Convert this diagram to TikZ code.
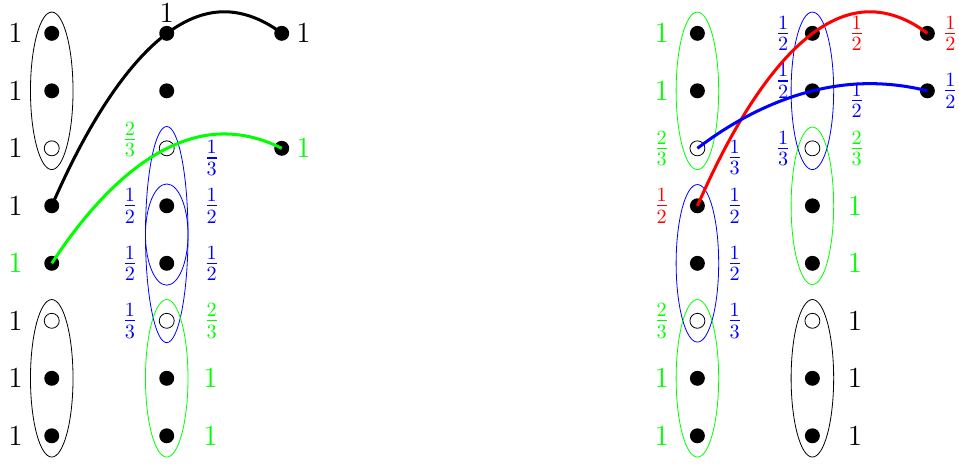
\documentclass[tikz,border=0pt]{standalone}
\usepackage{amsmath}
\usepackage{tikz}

\begin{document}
\begin{tikzpicture}[
	dot/.style={circle,fill=black,inner sep=0pt,minimum size=0.26cm},
	hole/.style={circle,draw=black,fill=white,inner sep=0pt,minimum size=0.26cm},
	lab/.style={font=\Large,inner sep=1pt},
	link/.style={line width=1.5pt}]
			\useasboundingbox (-0.9,-0.527) rectangle (15.78,7.58);
			% left picture
			\draw (0,6) ellipse (.37 and 1.37);
			\draw (0,1) ellipse (.37 and 1.37);
			\draw[blue] (2,3.5) ellipse (.37 and 1.88);
			\draw[blue] (2,3.5) ellipse (.37 and .88);
			\draw[green] (2,1) ellipse (.37 and 1.37);
			\node[dot] (a7) at (0,7) {};
			\node[dot] (a6) at (0,6) {};
			\node[hole] (a5) at (0,5) {};
			\node[dot] (a4) at (0,4) {};
			\node[dot] (a3) at (0,3) {};
			\node[hole] (a2) at (0,2) {};
			\node[dot] (a1) at (0,1) {};
			\node[dot] (a0) at (0,0) {};
			\node[dot] (b7) at (2,7) {};
			\node[dot] (b6) at (2,6) {};
			\node[hole] (b5) at (2,5) {};
			\node[dot] (b4) at (2,4) {};
			\node[dot] (b3) at (2,3) {};
			\node[hole] (b2) at (2,2) {};
			\node[dot] (b1) at (2,1) {};
			\node[dot] (b0) at (2,0) {};
			\node[dot] (c7) at (4,7) {};
			\node[dot] (c5) at (4,5) {};
			\node[lab] (la7) at (-.63,7) {$1$};
			\node[lab] (la6) at (-.63,6) {$1$};
			\node[lab] (la5) at (-.63,5) {$1$};
			\node[lab] (la4) at (-.63,4) {$1$};
			\node[lab,green] (la3) at (-.63,3) {$1$};
			\node[lab] (la2) at (-.63,2) {$1$};
			\node[lab] (la1) at (-.63,1) {$1$};
			\node[lab] (la0) at (-.63,0) {$1$};
			\node[lab] (tb7) at (2,7.35) {$1$};
			\node[lab,green] (lb5) at (1.36,5.15) {$\frac{2}{3}$};
			\node[lab,blue] (lb4) at (1.36,4) {$\frac{1}{2}$};
			\node[lab,blue] (lb3) at (1.36,3) {$\frac{1}{2}$};
			\node[lab,blue] (lb2) at (1.36,2) {$\frac{1}{3}$};
			\node[lab,blue] (rb5) at (2.78,4.83) {$\frac{1}{3}$};
			\node[lab,blue] (rb4) at (2.78,4) {$\frac{1}{2}$};
			\node[lab,blue] (rb3) at (2.78,3) {$\frac{1}{2}$};
			\node[lab,green] (rb2) at (2.78,2) {$\frac{2}{3}$};
			\node[lab,green] (rb1) at (2.76,1) {$1$};
			\node[lab,green] (rb0) at (2.76,0) {$1$};
			\node[lab] (rc7) at (4.38,7) {$1$};
			\node[lab,green] (rc5) at (4.38,5) {$1$};
			\coordinate (kblack) at (3,7.375);
			\coordinate (kgreen) at (3,5.25);
			\draw[link] (a4.center) parabola bend (kblack) (c7.center);
			\draw[link,green] (a3.center) parabola bend (kgreen) (c5.center);
			% right picture
			\draw[green] (11.23,6) ellipse (.37 and 1.37);
			\draw[blue] (11.23,3) ellipse (.37 and 1.37);
			\draw[green] (11.23,1) ellipse (.37 and 1.37);
			\draw[blue] (13.23,6) ellipse (.37 and 1.37);
			\draw[green] (13.23,4) ellipse (.37 and 1.37);
			\draw (13.23,1) ellipse (.37 and 1.37);
			\node[dot] (d7) at (11.23,7) {};
			\node[dot] (d6) at (11.23,6) {};
			\node[hole] (d5) at (11.23,5) {};
			\node[dot] (d4) at (11.23,4) {};
			\node[dot] (d3) at (11.23,3) {};
			\node[hole] (d2) at (11.23,2) {};
			\node[dot] (d1) at (11.23,1) {};
			\node[dot] (d0) at (11.23,0) {};
			\node[dot] (e7) at (13.23,7) {};
			\node[dot] (e6) at (13.23,6) {};
			\node[hole] (e5) at (13.23,5) {};
			\node[dot] (e4) at (13.23,4) {};
			\node[dot] (e3) at (13.23,3) {};
			\node[hole] (e2) at (13.23,2) {};
			\node[dot] (e1) at (13.23,1) {};
			\node[dot] (e0) at (13.23,0) {};
			\node[dot] (f7) at (15.23,7) {};
			\node[dot] (f6) at (15.23,6) {};
			\node[lab,green] (ld7) at (10.61,7) {$1$};
			\node[lab,green] (ld6) at (10.61,6) {$1$};
			\node[lab,green] (ld5) at (10.61,5) {$\frac{2}{3}$};
			\node[lab,red] (ld4) at (10.61,4) {$\frac{1}{2}$};
			\node[lab,green] (ld2) at (10.61,2) {$\frac{2}{3}$};
			\node[lab,green] (ld1) at (10.61,1) {$1$};
			\node[lab,green] (ld0) at (10.61,0) {$1$};
			\node[lab,blue] (rd5) at (11.88,4.84) {$\frac{1}{3}$};
			\node[lab,blue] (rd4) at (11.88,4) {$\frac{1}{2}$};
			\node[lab,blue] (rd3) at (11.88,3) {$\frac{1}{2}$};
			\node[lab,blue] (rd2) at (11.88,2) {$\frac{1}{3}$};
			\node[lab,blue] (le7) at (12.72,7) {$\frac{1}{2}$};
			\node[lab,blue] (le6) at (12.72,6.17) {$\frac{1}{2}$};
			\node[lab,blue] (le5) at (12.72,5) {$\frac{1}{3}$};
			\node[lab,red] (re7) at (14,7) {$\frac{1}{2}$};
			\node[lab,blue] (re6) at (14,5.83) {$\frac{1}{2}$};
			\node[lab,green] (re5) at (14,5) {$\frac{2}{3}$};
			\node[lab,green] (re4) at (13.97,4) {$1$};
			\node[lab,green] (re3) at (13.97,3) {$1$};
			\node[lab] (re2) at (13.97,2) {$1$};
			\node[lab] (re1) at (13.97,1) {$1$};
			\node[lab] (re0) at (13.97,0) {$1$};
			\node[lab,red] (rf7) at (15.63,7) {$\frac{1}{2}$};
			\node[lab,blue] (rf6) at (15.63,6) {$\frac{1}{2}$};
			\coordinate (kred) at (14.23,7.375);
			\coordinate (kblue) at (14.23,6.125);
			\draw[link,red] (d4.center) parabola bend (kred) (f7.center);
			\draw[link,blue] (d5.center) parabola bend (kblue) (f6.center);
		\end{tikzpicture}
\end{document}
